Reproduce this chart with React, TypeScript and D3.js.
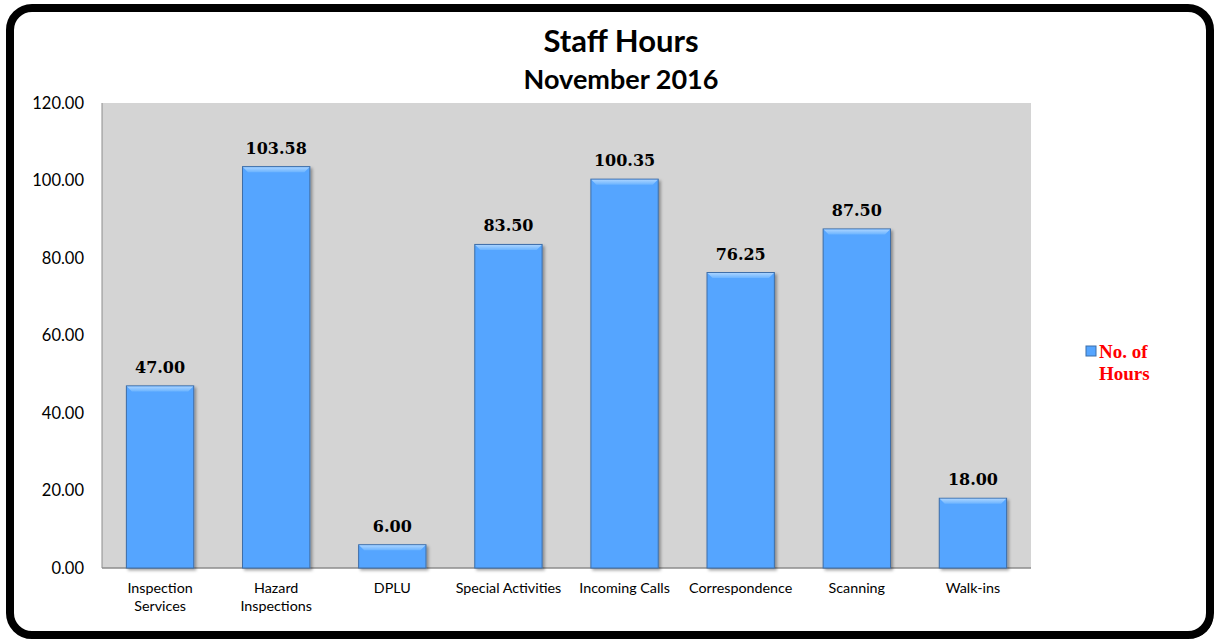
import React, { useEffect, useRef } from "react";
import * as d3 from "d3";

const categories = [
  ["Inspection", "Services"],
  ["Hazard", "Inspections"],
  ["DPLU"],
  ["Special Activities"],
  ["Incoming Calls"],
  ["Correspondence"],
  ["Scanning"],
  ["Walk-ins"],
];
const hours = [47.0, 103.58, 6.0, 83.5, 100.35, 76.25, 87.5, 18.0];
const yTicks = [0, 20, 40, 60, 80, 100, 120];

const App = () => {
  const svgRef = useRef<SVGSVGElement>(null);

  useEffect(() => {
    const width = 1216;
    const height = 641;
    const svg = d3.select(svgRef.current);
    svg.selectAll("*").remove();
    svg.attr("width", width).attr("height", height);

    const defs = svg.append("defs");
    const shadow = defs.append("filter").attr("id", "shadow").attr("x", "-20%").attr("y", "-20%").attr("width", "150%").attr("height", "150%");
    shadow.append("feDropShadow").attr("dx", 2).attr("dy", 2).attr("stdDeviation", 1.5).attr("flood-color", "#000").attr("flood-opacity", 0.35);
    const bevel = defs.append("linearGradient").attr("id", "bevel").attr("x1", 0).attr("y1", 0).attr("x2", 0).attr("y2", 1);
    bevel.append("stop").attr("offset", "0%").attr("stop-color", "#a9d3ff");
    bevel.append("stop").attr("offset", "100%").attr("stop-color", "#6cb4ff");

    // outer frame
    svg.append("rect")
      .attr("x", 12).attr("y", 10).attr("width", 1201).attr("height", 628)
      .attr("rx", 22).attr("fill", "#000");
    svg.append("rect")
      .attr("x", 10).attr("y", 8).attr("width", 1200).attr("height", 627)
      .attr("rx", 22).attr("fill", "#fff").attr("stroke", "#000").attr("stroke-width", 8);

    const left = 102, right = 1031, top = 103, bottom = 568;

    const x = d3.scaleBand().domain(categories.map((c) => c.join(" "))).range([left, right]).paddingInner(0.42).paddingOuter(0.21);
    const y = d3.scaleLinear().domain([0, 120]).range([bottom, top]);

    svg.append("rect")
      .attr("x", left).attr("y", top).attr("width", right - left).attr("height", bottom - top)
      .attr("fill", "#d4d4d4");
    svg.append("line").attr("x1", left).attr("x2", left).attr("y1", top).attr("y2", bottom).attr("stroke", "#8c8c8c").attr("stroke-width", 1);
    svg.append("line").attr("x1", left).attr("x2", right).attr("y1", bottom).attr("y2", bottom).attr("stroke", "#8c8c8c").attr("stroke-width", 1.5);

    // title
    svg.append("text").attr("x", 621).attr("y", 52).attr("text-anchor", "middle")
      .style("font-family", "Lato, sans-serif").style("font-weight", "bold").style("font-size", "31px").attr("fill", "#000")
      .text("Staff Hours");
    svg.append("text").attr("x", 621).attr("y", 89).attr("text-anchor", "middle")
      .style("font-family", "Lato, sans-serif").style("font-weight", "bold").style("font-size", "27px").attr("fill", "#000")
      .text("November 2016");

    // y axis labels
    svg.append("g").selectAll("text").data(yTicks).enter().append("text")
      .attr("x", 84).attr("y", (d) => y(d) + 5.5).attr("text-anchor", "end")
      .style("font-family", "Lato, sans-serif").style("font-size", "16.5px").attr("fill", "#000")
      .text((d) => d.toFixed(2));

    const data = categories.map((c, i) => ({ key: c.join(" "), lines: c, v: hours[i] }));

    // bars
    const bars = svg.append("g").selectAll("g").data(data).enter().append("g");
    bars.append("rect")
      .attr("x", (d) => x(d.key)!)
      .attr("y", (d) => y(d.v))
      .attr("width", x.bandwidth())
      .attr("height", (d) => bottom - y(d.v))
      .attr("fill", "#55a5ff")
      .attr("stroke", "#3d6ea8")
      .attr("stroke-width", 1)
      .attr("filter", "url(#shadow)");
    bars.append("path")
      .attr("d", (d) => {
        const x0 = x(d.key)! + 0.5;
        const x1 = x0 + x.bandwidth() - 1;
        const y0 = y(d.v) + 0.5;
        const b = 5;
        return `M${x0},${y0}L${x1},${y0}L${x1 - b},${y0 + b}L${x0 + b},${y0 + b}Z`;
      })
      .attr("fill", "url(#bevel)");

    // value labels
    svg.append("g").selectAll("text").data(data).enter().append("text")
      .attr("x", (d) => x(d.key)! + x.bandwidth() / 2)
      .attr("y", (d) => y(d.v) - 13)
      .attr("text-anchor", "middle")
      .style("font-family", "'DejaVu Serif', serif").style("font-weight", "bold").style("font-size", "16px").attr("fill", "#000")
      .text((d) => d.v.toFixed(2));

    // category labels
    const cats = svg.append("g").selectAll("text").data(data).enter().append("text")
      .attr("x", (d) => x(d.key)! + x.bandwidth() / 2)
      .attr("y", 593)
      .attr("text-anchor", "middle")
      .style("font-family", "Lato, sans-serif").style("font-size", "14.3px").attr("fill", "#000");
    cats.selectAll("tspan").data((d) => d.lines).enter().append("tspan")
      .attr("x", function () { return (this.parentNode as SVGTextElement).getAttribute("x"); })
      .attr("dy", (_, i) => (i === 0 ? 0 : 18))
      .text((t) => t);

    // legend
    svg.append("rect").attr("x", 1086).attr("y", 346).attr("width", 10).attr("height", 10)
      .attr("fill", "#55a5ff").attr("stroke", "#3d6ea8").attr("stroke-width", 1);
    const leg = svg.append("text").attr("x", 1099).attr("y", 358)
      .style("font-family", "'Liberation Serif', serif").style("font-weight", "bold").style("font-size", "19px").attr("fill", "#ff0000");
    leg.append("tspan").attr("x", 1099).text("No. of");
    leg.append("tspan").attr("x", 1099).attr("dy", 22).text("Hours");
  }, []);

  return <svg ref={svgRef} style={{ display: "block", position: "absolute", left: 0, top: 0 }}></svg>;
};

export default App;
